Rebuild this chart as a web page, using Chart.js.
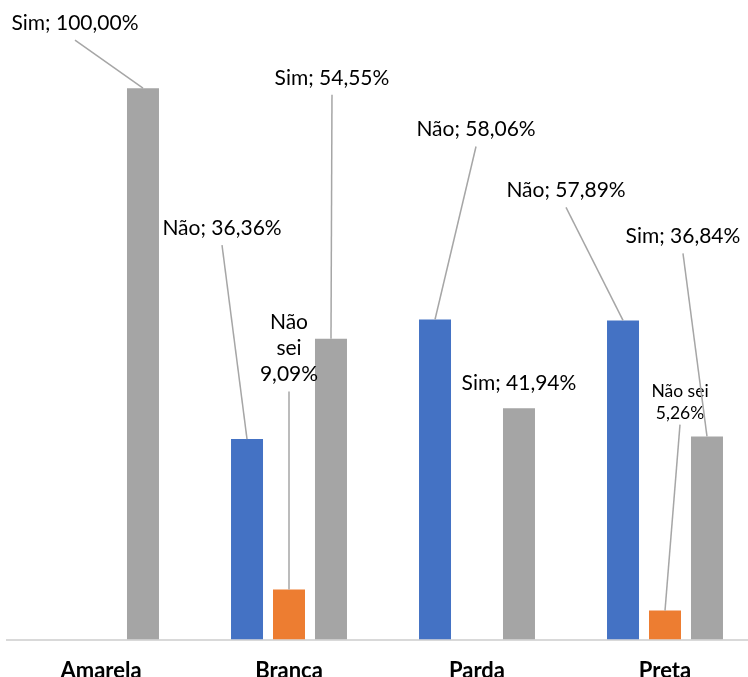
<!DOCTYPE html>
<html>
<head>
<meta charset="utf-8">
<script src="https://cdn.jsdelivr.net/npm/chart.js@4/dist/chart.umd.min.js"></script>
<style>
  html, body { margin: 0; padding: 0; overflow: hidden; background: #fff; }
  #wrap { width: 760px; height: 702px; }
</style>
</head>
<body>
<div id="wrap"><canvas id="c" width="760" height="702"></canvas></div>
<script>
// Respostas por cor/raça (%)
const categories = ['Amarela', 'Branca', 'Parda', 'Preta'];
const seriesNames = ['Não', 'Não sei', 'Sim'];
const nao    = [null, 36.36, 58.06, 57.89];
const naoSei = [null, 9.09, null, 5.26];
const sim    = [100.00, 54.55, 41.94, 36.84];

const colors = ['#4472C4', '#ED7D31', '#A5A5A5'];

// Label placement relative to the top-centre of each bar (pixels)
// key: datasetIndex -> categoryIndex -> {dx, dy, style, leader, small}
const labelPlacement = {
  0: {
    1: { dx: -25, dy: -211, style: 'inline', leader: true },
    2: { dx: 41,  dy: -190, style: 'inline', leader: true },
    3: { dx: -57, dy: -130, style: 'inline', leader: true }
  },
  1: {
    1: { dx: 0,  dy: -241, style: 'stacked3', leader: true },
    3: { dx: 15, dy: -208, style: 'stacked2', leader: true, small: true }
  },
  2: {
    0: { dx: -68, dy: -65,  style: 'inline', leader: true },
    1: { dx: 1,   dy: -261, style: 'inline', leader: true },
    2: { dx: 0,   dy: -25,  style: 'inline', leader: false },
    3: { dx: -24, dy: -200, style: 'inline', leader: true }
  }
};

const FONT = 'Lato, "Open Sans", sans-serif';

function fmt(v) {
  return v.toFixed(2).replace('.', ',') + '%';
}

function labelLines(name, v, style) {
  if (style === 'stacked3') return ['Não', 'sei', fmt(v)];
  if (style === 'stacked2') return [name, fmt(v)];
  return [name + '; ' + fmt(v)];
}

const dataLabels = {
  id: 'dataLabels',
  afterDatasetsDraw(chart) {
    const ctx = chart.ctx;
    chart.data.datasets.forEach((ds, di) => {
      const meta = chart.getDatasetMeta(di);
      meta.data.forEach((bar, ci) => {
        const v = ds.data[ci];
        if (v === null || v === undefined) return;
        const p = (labelPlacement[di] || {})[ci];
        if (!p) return;
        const size = p.small ? 17.5 : 21;
        const lh = p.small ? 22 : 26;
        const lines = labelLines(seriesNames[di], v, p.style);
        const cx = bar.x + p.dx;
        const cy = bar.y + p.dy;
        const top = cy - (lines.length - 1) * lh / 2;
        ctx.save();
        ctx.fillStyle = '#000';
        ctx.font = size + 'px ' + FONT;
        ctx.textAlign = 'center';
        ctx.textBaseline = 'middle';
        lines.forEach((t, k) => ctx.fillText(t, cx, top + k * lh));
        if (p.leader) {
          const startY = top + (lines.length - 1) * lh + (p.small ? 11 : 17);
          ctx.strokeStyle = '#A6A6A6';
          ctx.lineWidth = 1.5;
          ctx.beginPath();
          ctx.moveTo(cx, startY);
          ctx.lineTo(bar.x, bar.y);
          ctx.stroke();
        }
        ctx.restore();
      });
    });
  }
};

new Chart(document.getElementById('c'), {
  type: 'bar',
  data: {
    labels: categories,
    datasets: [
      { label: seriesNames[0], data: nao,    backgroundColor: colors[0] },
      { label: seriesNames[1], data: naoSei, backgroundColor: colors[1] },
      { label: seriesNames[2], data: sim,    backgroundColor: colors[2] }
    ]
  },
  options: {
    responsive: false,
    animation: false,
    layout: { padding: { left: 7, right: 1, top: 0, bottom: 0 } },
    datasets: {
      bar: { categoryPercentage: 0.67, barPercentage: 0.762 }
    },
    plugins: {
      legend: { display: false },
      tooltip: { enabled: false }
    },
    scales: {
      x: {
        grid: { display: false, drawTicks: false },
        border: { display: true, color: '#D9D9D9', width: 2 },
        ticks: {
          color: '#000',
          padding: 18,
          font: { family: FONT, size: 22, weight: 'bold' }
        }
      },
      y: {
        display: false,
        min: 0,
        max: 116
      }
    }
  },
  plugins: [dataLabels]
});
</script>
</body>
</html>
